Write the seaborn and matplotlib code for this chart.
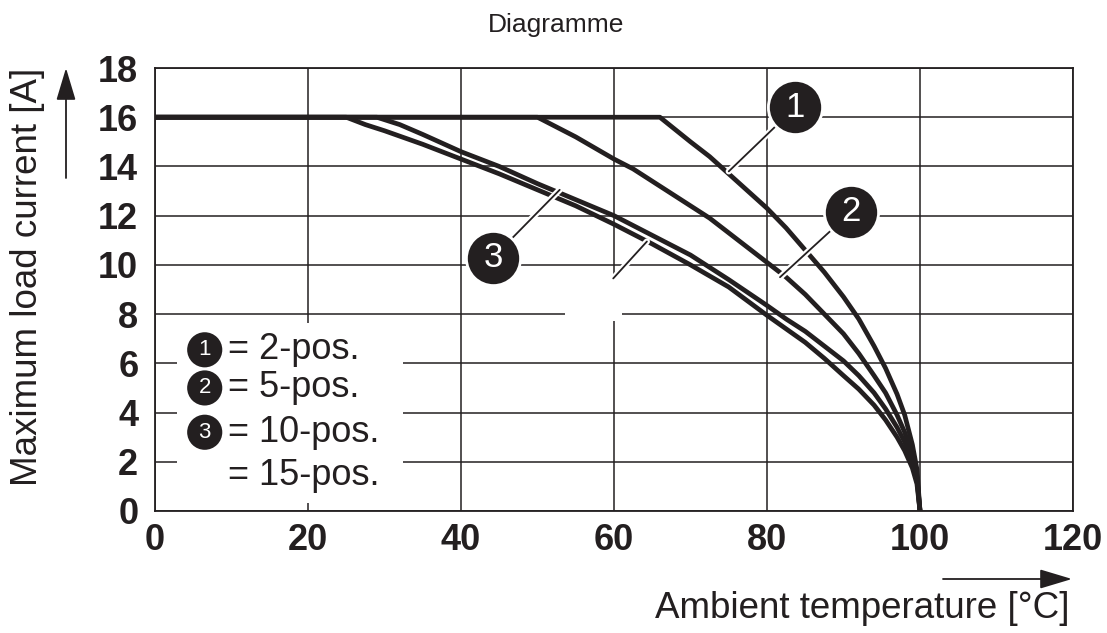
import numpy as np
import pandas as pd
import seaborn as sns
import matplotlib.pyplot as plt
import matplotlib.patheffects as pe
from matplotlib.patches import Rectangle

# derating curves
temp_2pos = [0, 66, 68, 70, 72.5, 75, 77.5, 80, 82.5, 85, 87.5, 90, 92, 94, 95.5, 97, 98, 99, 99.6, 100]
cur_2pos = [16, 16, 15.5, 15.0, 14.4, 13.7, 13.0, 12.3, 11.5, 10.6, 9.7, 8.7, 7.8, 6.7, 5.8, 4.75, 3.9, 2.7, 1.7, 0]

temp_5pos = [0, 50, 52.5, 55, 57.5, 60, 62.5, 65, 67.5, 70, 72.5, 75, 77.5, 80, 82.5, 85, 87.5,
             90, 92, 94, 95.5, 97, 98, 99, 99.6, 100]
cur_5pos = [16, 16, 15.6, 15.2, 14.75, 14.3, 13.9, 13.4, 12.9, 12.4, 11.9, 11.3, 10.7, 10.1, 9.5, 8.8, 8.0,
            7.2, 6.4, 5.5, 4.8, 3.9, 3.2, 2.3, 1.4, 0]

temp_10pos = [0, 29, 32, 35, 40, 45, 50, 55, 60, 65, 70, 75, 80, 82.5, 85, 87.5, 90, 92, 94, 95.5,
              97, 98, 99, 99.6, 100]
cur_10pos = [16, 16, 15.7, 15.3, 14.6, 14.0, 13.3, 12.65, 12.0, 11.2, 10.4, 9.4, 8.35, 7.8, 7.3, 6.7, 6.1,
             5.5, 4.8, 4.15, 3.4, 2.8, 2.0, 1.3, 0]

temp_15pos = [0, 25, 27.5, 30, 35, 40, 45, 50, 55, 60, 65, 70, 75, 80, 82.5, 85, 87.5, 90, 92, 94, 95.5,
              97, 98, 99, 99.6, 100]
cur_15pos = [16, 16, 15.7, 15.45, 14.9, 14.3, 13.7, 13.05, 12.4, 11.65, 10.85, 10.0, 9.1, 7.95, 7.4, 6.85,
             6.2, 5.5, 4.95, 4.3, 3.7, 3.0, 2.45, 1.75, 1.1, 0]

legend_labels = ["= 2-pos.", "= 5-pos.", "= 10-pos.", "= 15-pos."]
legend_marks = ["1", "2", "3", ""]
x_ticks = [0, 20, 40, 60, 80, 100, 120]
y_ticks = [0, 2, 4, 6, 8, 10, 12, 14, 16, 18]

frames = []
for name, t, c in [("2-pos", temp_2pos, cur_2pos), ("5-pos", temp_5pos, cur_5pos),
                   ("10-pos", temp_10pos, cur_10pos), ("15-pos", temp_15pos, cur_15pos)]:
    frames.append(pd.DataFrame({"temp": t, "current": c, "variant": name}))
df = pd.concat(frames, ignore_index=True)

sns.set_theme(style="white")
plt.rcParams["font.family"] = ["Liberation Sans", "DejaVu Sans"]
ink = "#231f20"

fig = plt.figure(figsize=(11.07, 6.33), dpi=100)
ax = fig.add_axes([155 / 1107, 1 - 511 / 633, (1073 - 155) / 1107, (511 - 68) / 633])

sns.lineplot(data=df, x="temp", y="current", hue="variant", palette=[ink] * 4,
             estimator=None, sort=False, legend=False, lw=3.4, ax=ax, zorder=3)
for line in ax.lines:
    line.set_solid_joinstyle("round")
    line.set_solid_capstyle("round")

ax.set_xlim(0, 120)
ax.set_ylim(0, 18)
ax.set_xticks(x_ticks)
ax.set_yticks(y_ticks)
ax.set_xticklabels([str(v) for v in x_ticks], fontsize=26, fontweight="bold")
ax.set_yticklabels([str(v) for v in y_ticks], fontsize=26, fontweight="bold")
ax.tick_params(axis="x", length=0, pad=9, colors=ink)
ax.tick_params(axis="y", length=0, pad=12, colors=ink)
ax.grid(True, color=ink, lw=1.1, zorder=0.5)
ax.set_axisbelow(True)
for s in ax.spines.values():
    s.set_color(ink)
    s.set_linewidth(1.3)
ax.set_xlabel("")
ax.set_ylabel("")

# white cut-outs over the grid
ax.add_patch(Rectangle((2.9, 0.33), 29.5, 7.31, facecolor="white", edgecolor="none", zorder=1))
ax.add_patch(Rectangle((53.6, 7.7), 7.4, 1.9, facecolor="white", edgecolor="none", zorder=1))

# leader lines
halo = [pe.Stroke(linewidth=4.5, foreground="white"), pe.Normal()]
leaders = [((83.7, 16.4), (75.0, 13.8)),
           ((91.0, 12.15), (81.7, 9.5)),
           ((44.2, 10.3), (52.9, 13.05)),
           ((59.9, 9.45), (64.3, 10.95))]
for (x0, y0), (x1, y1) in leaders:
    ax.plot([x0, x1], [y0, y1], color=ink, lw=1.3, zorder=4, path_effects=halo)

# numbered circles
circ_x = [83.7, 91.0, 44.2]
circ_y = [16.4, 12.15, 10.3]
ax.scatter(circ_x, circ_y, s=1520, color=ink, edgecolors="white", linewidths=2, zorder=5)
for x, y, m in zip(circ_x, circ_y, ["1", "2", "3"]):
    ax.text(x, y, m, color="white", fontsize=25, ha="center", va="center", zorder=6)

# legend text
leg_y = [6.55, 5.0, 3.2, 1.45]
for y, lab, m in zip(leg_y, legend_labels, legend_marks):
    if m:
        ax.scatter([6.5], [y], s=640, color=ink, edgecolors="none", zorder=5)
        ax.text(6.5, y, m, color="white", fontsize=16, ha="center", va="center", zorder=6)
    ax.text(9.6, y, lab, color=ink, fontsize=26, ha="left", va="center", zorder=6)

# titles and axis labels with arrows
fig.text(556 / 1107, 1 - 25 / 633, "Diagramme", fontsize=19, ha="center", va="center", color=ink)
fig.text(28 / 1107, 1 - 277 / 633, "Maximum load current [A]", fontsize=26.5, rotation=90,
         ha="center", va="center", color=ink)
fig.text(862 / 1107, 1 - 608 / 633, "Ambient temperature [°C]", fontsize=26.5,
         ha="center", va="center", color=ink)
arrow = dict(arrowstyle="-|>,head_length=1.0,head_width=0.3", color=ink, lw=1.3,
             mutation_scale=20, shrinkA=0, shrinkB=0)
ax.annotate("", xy=(66 / 1107, 1 - 68 / 633), xytext=(66 / 1107, 1 - 178 / 633),
            xycoords="figure fraction", textcoords="figure fraction", arrowprops=arrow)
ax.annotate("", xy=(1072 / 1107, 1 - 579 / 633), xytext=(943 / 1107, 1 - 579 / 633),
            xycoords="figure fraction", textcoords="figure fraction", arrowprops=arrow)

fig.savefig("out.png", dpi=100, facecolor="white")
